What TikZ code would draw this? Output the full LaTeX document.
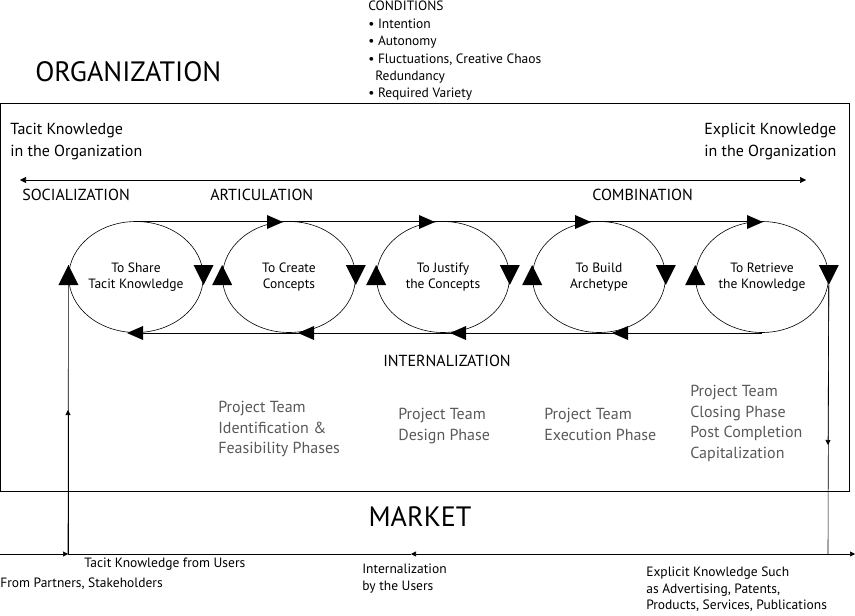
\documentclass[tikz,border=0pt]{standalone}
\usepackage{fontspec}
\setmainfont{PT Sans}
\usetikzlibrary{arrows.meta}
\tikzset{
  lbl/.style={anchor=west,inner sep=0pt,font=\fontsize{13.5}{16}\selectfont,align=left},
  phase/.style={anchor=north west,inner sep=0pt,font=\fontsize{16}{20.5}\selectfont,text=black!65,align=left},
  big/.style={inner sep=0pt,font=\fontsize{28}{30}\selectfont},
  stage/.style={ellipse,draw,minimum width=133pt,minimum height=111pt,inner sep=0pt,font=\fontsize{13.5}{16}\selectfont,align=center},
  head/.style={lbl,font=\fontsize{16}{22}\selectfont},
  smalltip/.style={-{Triangle[length=5pt,width=5pt]}}
}
\usetikzlibrary{shapes.geometric}
\begin{document}
\begin{tikzpicture}[x=1pt,y=-1pt,line width=0.6pt]
  \useasboundingbox (0,0) rectangle (855,616);
  %\draw [help lines] (0,0) grid (855,616);
  \draw (0,103) rectangle (849,491);
  \node[big,anchor=west] (org) at (35,72) {ORGANIZATION};
  \node[big] (market) at (420,517) {MARKET};

  \node[lbl,anchor=north west,font=\fontsize{13.5}{17.4}\selectfont] (cond) at (368,1)
    {CONDITIONS\\• Intention\\• Autonomy\\• Fluctuations, Creative Chaos\\\hspace*{7pt}Redundancy\\• Required Variety};

  \node[head] (tacit) at (10,142) {Tacit Knowledge\\in the Organization};
  \node[head] (explicit) at (704,142) {Explicit Knowledge\\in the Organization};
  \coordinate (dl) at (20,180);
  \coordinate (dr) at (806,180);
  \draw[{Triangle[length=6pt,width=6pt]}-{Triangle[length=6pt,width=6pt]}] (dl) -- (dr);

  \node[head] (soc) at (22,195) {SOCIALIZATION};
  \node[head] (art) at (210,195) {ARTICULATION};
  \node[head] (com) at (592,195) {COMBINATION};
  \node[head] (int) at (383,361) {INTERNALIZATION};

  % the five stages
  \node[stage] (s1) at (136,277) {To Share\\Tacit Knowledge};
  \node[stage] (s2) at (289,277) {To Create\\Concepts};
  \node[stage] (s3) at (443,277) {To Justify\\the Concepts};
  \node[stage] (s4) at (599,277) {To Build\\Archetype};
  \node[stage] (s5) at (762,277) {To Retrieve\\the Knowledge};

  \foreach \s in {s1,s2,s3,s4,s5} {
    \fill ([xshift=-10pt,yshift=-8pt]\s.west) -- ([xshift=10pt,yshift=-8pt]\s.west) -- ([yshift=12pt]\s.west) -- cycle;
    \fill ([xshift=-10pt,yshift=12pt]\s.east) -- ([xshift=10pt,yshift=12pt]\s.east) -- ([yshift=-8pt]\s.east) -- cycle;
  }

  \draw (s1.north) -- (s5.north);
  \foreach \x in {283,435,591,763}
    \fill (\x,222) -- (\x-16,215) -- (\x-16,229) -- cycle;
  \draw (s5.south) -- (s1.south);
  \foreach \x in {127,298,450,612}
    \fill (\x,333) -- (\x+16,326) -- (\x+16,340) -- cycle;

  \node[phase] (p1) at (218,401) {Project Team\\Identification \&\\Feasibility Phases};
  \node[phase] (p2) at (398,408) {Project Team\\Design Phase};
  \node[phase] (p3) at (544,408) {Project Team\\Execution Phase};
  \node[phase] (p4) at (690,385) {Project Team\\Closing Phase\\Post Completion\\Capitalization};

  % market line
  \coordinate (m0) at (0,554);
  \coordinate (mu) at (68,554);
  \coordinate (mi) at (411,554);
  \coordinate (me) at (828,554);
  \coordinate (m1) at (855,554);
  \draw[smalltip] (m0) -- (mu);
  \draw (mu) -- (mi);
  \draw[smalltip] (me) -- (mi);
  \draw[smalltip] (me) -- (m1);
  \draw (mu) -- ([yshift=12pt]s1.west);
  \draw[smalltip] (mu) -- (68,410);
  \draw ([yshift=-8pt]s5.east) -- (me);
  \draw[smalltip] ([yshift=-8pt]s5.east) -- (828,445);

  \node[lbl] (u1) at (84,564) {Tacit Knowledge from Users};
  \node[lbl] (u2) at (0,584) {From Partners, Stakeholders};
  \node[lbl,anchor=north west,font=\fontsize{13.5}{16.5}\selectfont] (u3) at (362,564) {Internalization\\by the Users};
  \node[lbl,anchor=north west,font=\fontsize{13.5}{16.5}\selectfont] (u4) at (646,567) {Explicit Knowledge Such\\as Advertising, Patents,\\Products, Services, Publications};
\end{tikzpicture}
\end{document}
